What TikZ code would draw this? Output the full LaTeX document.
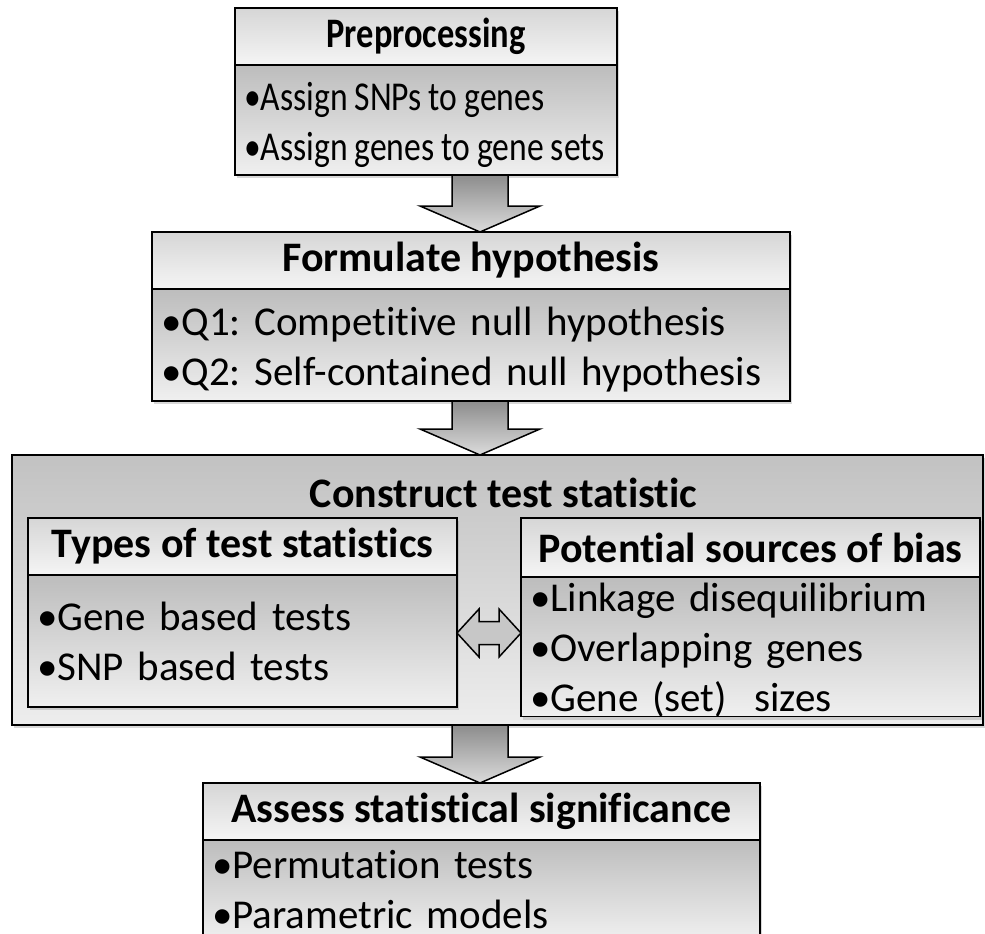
\documentclass[tikz,border=0pt]{standalone}
\usepackage{fontspec}
\setmainfont{Carlito}[Ligatures=NoCommon]
\newfontfamily\narrowfont{Carlito}[Ligatures=NoCommon, FakeStretch=0.82]
\usetikzlibrary{positioning,calc,shadows}
\definecolor{hdTop}{gray}{0.84}
\definecolor{hdBot}{gray}{0.96}
\definecolor{bdTop}{gray}{0.74}
\definecolor{bdBot}{gray}{0.94}
\definecolor{frTop}{gray}{0.76}
\definecolor{frBot}{gray}{0.93}
\definecolor{arTop}{gray}{0.55}
\definecolor{arBot}{gray}{0.86}
\definecolor{dbFill}{gray}{0.78}
\tikzset{
    box/.style={draw=black, line width=1.5pt, inner sep=0pt, outer sep=0pt,
                drop shadow={opacity=0.3, shadow xshift=2pt, shadow yshift=-3pt}},
    headbox/.style={box, top color=hdTop, bottom color=hdBot,
                    font=\bfseries\fontsize{42}{48}\selectfont},
    bodybox/.style={box, top color=bdTop, bottom color=bdBot, align=left,
                    inner xsep=9pt, font=\fontsize{41}{50}\selectfont},
    narrow/.style={align=flush left,
                   font={\narrowfont\fontsize{41}{50}\selectfont\spaceskip=7pt\relax}},
    framebox/.style={box, top color=frTop, bottom color=frBot},
    headtext/.style={font=\bfseries\fontsize{42}{48}\selectfont, inner sep=0pt},
    blockdown/.style={draw=black, line width=1.5pt, top color=arTop, bottom color=arBot,
        to path={($(\tikztostart)+(-28,0)$) -- ($(\tikztotarget)+(-28,-26)$)
                 -- ($(\tikztotarget)+(-60,-26)$) -- (\tikztotarget)
                 -- ($(\tikztotarget)+(60,-26)$) -- ($(\tikztotarget)+(28,-26)$)
                 -- ($(\tikztostart)+(28,0)$) -- cycle}},
    blockboth/.style={draw=black, line width=1.5pt, fill=dbFill,
        to path={(\tikztostart) -- ($(\tikztostart)+(22,-24)$) -- ($(\tikztostart)+(22,-11.5)$)
                 -- ($(\tikztotarget)+(-22,-11.5)$) -- ($(\tikztotarget)+(-22,-24)$)
                 -- (\tikztotarget) -- ($(\tikztotarget)+(-22,24)$)
                 -- ($(\tikztotarget)+(-22,11.5)$) -- ($(\tikztostart)+(22,11.5)$)
                 -- ($(\tikztostart)+(22,24)$) -- cycle}}
}
\frenchspacing

\begin{document}
\begin{tikzpicture}[x=1pt, y=-1pt]
  \useasboundingbox (0,0) rectangle (985,934);
  \fill[white] (0,0) rectangle (985,934);
  \clip (0,0) rectangle (985,934);
  \coordinate (axis) at (480,0);

  % Preprocessing
  \node[headbox, anchor=north west, minimum width=382pt, minimum height=57pt] (preH) at (235,8) {\narrowfont Preprocessing};
  \node[bodybox, narrow, below=0pt of preH, minimum height=110pt, text width=364pt] (preB)
    {\rule{0pt}{38pt}•Assign SNPs to genes\\•Assign genes to gene sets};

  % Formulate hypothesis
  \node[headbox, anchor=north west, minimum width=638pt, minimum height=57pt] (formH) at (152,232) {Formulate hypothesis};
  \node[bodybox, below=0pt of formH, minimum height=112pt, text width=620pt] (formB)
    {\rule{0pt}{38pt}•Q1: Competitive null hypothesis\\•Q2: Self-contained null hypothesis};

  % Construct test statistic
  \node[framebox, anchor=north west, minimum width=971pt, minimum height=270pt] (cons) at (12,455) {};
  \node[headtext] (consT) at ([xshift=6pt, yshift=-38pt]cons.north) {Construct test statistic};

  \node[headbox, anchor=north west, minimum width=429pt, minimum height=57pt] (typesH) at (28,518) {Types of test statistics};
  \node[bodybox, below=0pt of typesH, minimum height=132pt, text width=411pt] (typesB)
    {•Gene based tests\\•SNP based tests};

  \node[headbox, anchor=north west, minimum width=459pt, minimum height=59pt] (biasH) at (521,518) {Potential sources of bias};
  \node[bodybox, below=0pt of biasH, minimum height=138pt, text width=441pt] (biasB)
    {\rule{0pt}{34pt}•Linkage disequilibrium\\•Overlapping genes\\•Gene (set)~~sizes};

  % Assess statistical significance
  \node[headbox, anchor=north west, minimum width=557pt, minimum height=57pt] (sigH) at (203,783) {Assess statistical significance};
  \node[bodybox, below=0pt of sigH, minimum height=100pt, text width=539pt] (sigB)
    {•Permutation tests\\•Parametric models};

  % Arrows
  \draw[blockdown] (preB.south -| axis) to (formH.north -| axis);
  \draw[blockdown] (formB.south -| axis) to (cons.north -| axis);
  \draw[blockdown] (cons.south -| axis) to (sigH.north -| axis);
  \draw[blockboth] ([yshift=8pt]typesB.east) to ([yshift=8pt]typesB.east -| biasB.west);
\end{tikzpicture}
\end{document}
